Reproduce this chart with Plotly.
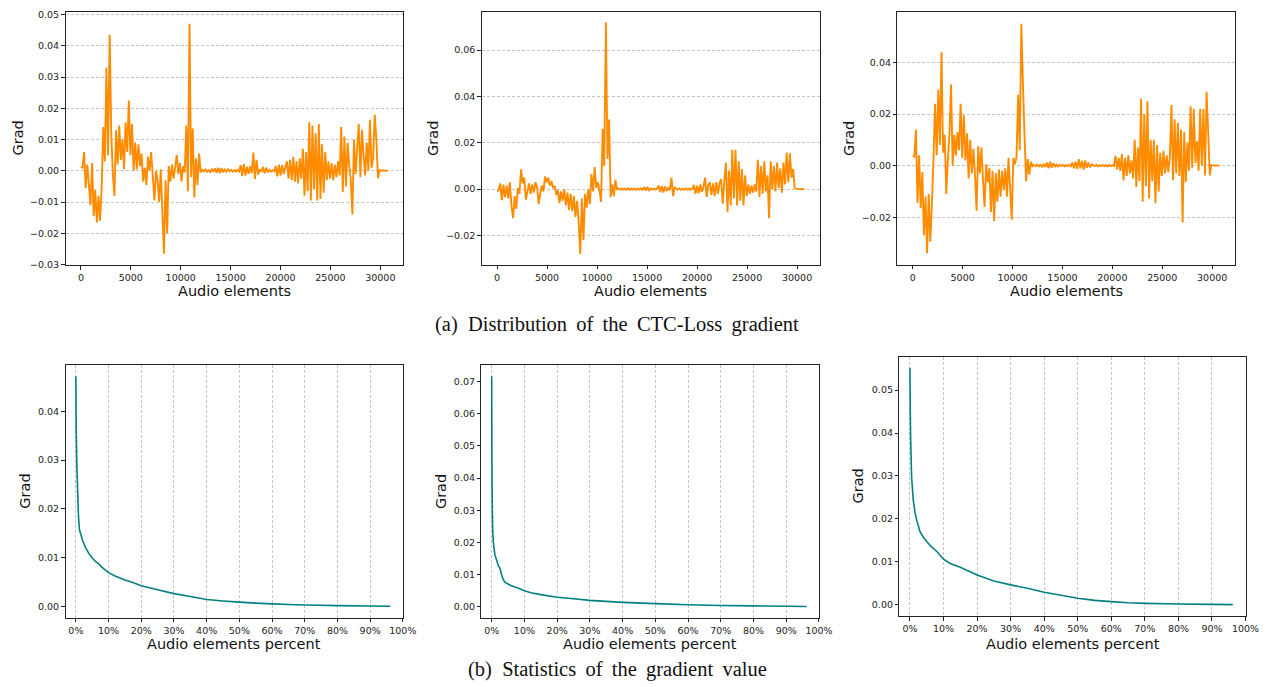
import numpy as np
import plotly.graph_objects as go

# ---------------- data (gradient values in units of 1e-3) ----------------
SAMPLE_STEP = 160  # audio elements between successive read-off points

grad_a = [1.2, 1.0, 6.0, -5.5, 2.0, -4.5, -11.0, 2.5, -14.5, -6.0,
          -16.5, -8.0, -16.0, -5.5, 14.0, 3.0, 33.0, 5.0, 43.5, 12.0,
          -1.0, -8.0, 13.0, 2.0, 14.5, 3.5, 10.0, 0.5, 15.5, 6.0,
          22.5, 5.0, 15.0, 0.0, 9.0, 0.5, 8.5, 1.5, 5.5, -3.5,
          1.0, -4.5, 4.5, 0.0, 6.0, -1.5, -9.5, 0.0, -3.0, -10.0,
          0.5, -13.0, -26.5, -3.0, -20.0, 1.5, -3.5, 2.0, -2.5, 1.0,
          5.0, -1.0, 2.5, -3.5, 1.5, -0.5, 14.5, -6.5, 47.0, -2.0,
          13.5, -8.5, 4.0, -4.5, 5.5, -0.5,
          0.3, -0.2, 0.4, -0.3, 0.2, -0.4, 0.5, -0.3, 0.8, -0.6, 1.0, -0.8,
          0.9, -0.5, 0.4, -0.3, 0.5, -0.2, 0.3, -0.3, 0.2, -0.2, 0.3, -0.2,
          1.8, -1.6, 2.2, -1.5, 1.2, -1.0, 1.5,
          -0.8, 5.8, -2.6, 3.5, -1.2,
          0.4, -0.3, 1.2, -0.8, 1.0, -0.5, 0.3, -0.3, 0.2, -0.2,
          1.5, -1.8, 2.0, -1.5, 1.8, -1.0, 1.2,
          3.0, -2.5,
          3.5, -3.0, 4.5, -3.5, 3.0, -4.0, 4.0, -2.5,
          7.0, -8.0, 6.0, -6.5,
          15.5, -9.5, 14.5, -6.0, 12.0, -9.5, 15.0,
          -9.0, 8.5, -7.0, 6.0, -3.0,
          3.0, -2.5, 2.5, -3.0, 2.0, -2.0, 3.0, -1.5,
          14.0, -6.8, 11.0, -5.0, 9.0,
          2.0, -3.0, -14.0,
          10.0, -1.0, 7.0,
          15.0, -2.0, 13.0,
          5.0, -1.5, 9.0, 0.0,
          16.3, 1.0,
          4.0, 17.9, 10.0, -2.4,
          0.2, 0.1, 0.1, 0.0, 0.1, 0.0]

grad_b = [-0.8, -0.6, 2.5, -4.8, 2.0, -3.5, 1.5, -4.0, 3.0, -7.0,
          -12.5, -3.0, -8.5, 0.5, -2.0, 8.5, 2.5, 5.0, -4.5, -1.0,
          2.5, -2.0, 2.0, -1.5, 3.0, 1.0, -6.5, -2.0, 1.5, -1.0,
          5.5, 3.0, 5.0, 1.5, 3.5, 0.5, 1.5, -2.5, -0.5, -6.0,
          -1.0, -5.0, 0.0, -7.0, -1.5, -9.0, -2.0, -9.5, -3.0, -12.0,
          -5.0, -14.0, -28.0, -4.0, -22.0, -2.0, -8.0, 0.0, -6.5, 6.5,
          -1.0, 9.5, 0.5, 3.0, -0.5, -5.5, 26.0, 10.0, 72.0, 13.0,
          30.0, -3.5, 2.0, -3.0, 4.0, -0.3,
          0.3, -0.2, 0.3, -0.3, 0.2, -0.2, 0.4, -0.3, 0.3, -0.2, 0.2, -0.3,
          0.3, -0.2, 0.4, -0.3, 0.8, -0.6, 1.0, -0.5, 0.3, -0.2, 0.2, -0.2, 0.3,
          1.5, -1.2, 1.4, -1.5, 1.2, -0.8,
          0.5, -0.4,
          5.0, -3.0, 1.0,
          0.3, -0.2, 0.3, -0.3, 0.2, -0.2, 0.3, -0.2, 0.2, -0.3, 0.2,
          1.8, -2.0, 1.5, -1.8, 2.0, -1.2,
          1.0,
          5.0, -3.4, 2.0,
          3.0, -2.5, 2.5, -3.0, 3.0, -2.0, 2.5,
          4.4, -6.3, 3.0,
          11.5, -9.8, 8.0, -7.0,
          17.0, -4.0, 17.0, -7.0, 12.0, -5.0,
          8.7, -7.0, 6.0, -3.0,
          2.0, -2.0, 1.5, -1.5, 2.0, -1.0,
          12.7, -3.4, 10.0, -2.0, 12.0, -1.0,
          6.0, -12.5, 12.0, 0.0, 10.0, -1.0, 11.5, 0.5, 9.0, -1.5, 11.5,
          2.0, 15.8, 3.0, 15.5, 5.0, 8.7, 0.5,
          0.1, 0.1, 0.0, 0.1, 0.0, 0.0]

grad_c = [3.8, 3.5, 14.0, -14.5, 4.0, -16.5, -2.5, -27.0, -12.0, -34.0,
          -11.0, -29.5, -15.0, 2.5, 24.0, 4.0, 29.5, 8.0, 44.0, 5.0,
          12.0, -11.0, 2.0, 12.5, 31.5, 0.0, 12.0, 4.0, 13.0, 6.0,
          24.0, 3.0, 19.5, 2.0, 12.5, -5.0, 10.0, -3.0, 6.5, -4.0,
          -17.5, 7.5, -3.0, 7.0, -5.5, -16.0, 0.5, -6.5, -1.0, -18.0,
          -2.0, -21.5, -3.0, -14.0, -1.5, -12.0, -2.0, -9.5, -1.0, -12.0,
          3.0, -9.0, -21.0, 3.0, 0.5, 3.5, 27.5, 6.0, 55.0, 32.0,
          12.0, -6.0, 2.5, -3.5, 1.5, -0.2,
          0.3, -0.2, 0.4, -0.3, 0.3, -0.4, 0.5, -0.5, 1.2, -1.0, 1.5, -0.8,
          1.0, -0.5, 0.4, -0.3, 0.3, -0.2, 0.3, -0.3, 0.2, -0.2, 0.3, -0.3,
          1.2, -1.0, 1.5, -1.2, 2.5, -1.0, 1.8, -1.5, 2.0, -0.8, 1.2, -0.6, 0.5,
          0.3, -0.2, 0.3, -0.3, 0.2, -0.2, 0.3, -0.2, 0.2, -0.3, 0.3, -0.2, 0.2, -0.2,
          3.8, -1.5, 3.0, -2.0,
          4.5, -5.7, 3.0, -4.0, 4.0, -3.0, 2.0, -5.0,
          10.0, -8.3, 7.0, -6.0,
          26.0, -14.0, 20.0, -8.0, 25.0, -12.7, 10.0, -6.0,
          10.0, -14.6, 8.0, -10.0, 5.0,
          -4.0, 5.7, -3.0, 4.0, -2.5, 3.0,
          23.5, -5.7, 18.0, -3.0, 16.5,
          -4.0, 14.0, -22.0, 13.0, -6.4, 9.0, -2.0,
          23.0, -1.0, 22.0, 1.0, 9.5, -2.0, 22.0, 0.0,
          22.0, -3.8, 28.6, 13.0, -3.8,
          0.2, 0.1, 0.0, 0.1, 0.0, 0.0]

# sorted |grad| curves: percent of audio elements -> value (1e-3)
pct_a = [0, 0.1, 0.3, 0.5, 0.8, 1.1, 1.5, 2, 3, 4, 5, 6, 7, 8, 10, 12, 15, 17,
         20, 25, 30, 35, 40, 45, 50, 55, 60, 65, 70, 75, 80, 90, 96.2]
val_a = [47.2, 36.0, 29.0, 24.5, 18.4, 15.7, 14.8, 13.6, 12.0, 10.8, 9.9, 9.2,
         8.7, 8.0, 6.9, 6.2, 5.4, 5.0, 4.2, 3.4, 2.6, 2.0, 1.4, 1.1, 0.85, 0.65,
         0.5, 0.38, 0.28, 0.2, 0.14, 0.05, 0.0]

pct_b = [0, 0.05, 0.1, 0.2, 0.3, 0.5, 0.8, 1.0, 1.5, 2, 2.5, 3, 3.5, 4, 5, 6, 8,
         10, 12, 15, 20, 25, 30, 35, 40, 50, 60, 70, 80, 90, 96.2]
val_b = [71.7, 50.0, 40.0, 30.0, 24.0, 20.0, 17.5, 16.0, 14.5, 12.8, 12.0, 10.0,
         8.5, 7.6, 7.0, 6.5, 5.8, 4.9, 4.3, 3.7, 2.9, 2.4, 1.9, 1.6, 1.3, 0.9,
         0.55, 0.3, 0.2, 0.08, 0.0]

pct_c = [0, 0.1, 0.2, 0.5, 1, 1.5, 2, 3, 4, 5, 6, 8, 10, 12, 15, 20, 25, 30, 35,
         40, 45, 50, 55, 60, 65, 70, 80, 90, 96.2]
val_c = [55.2, 45.0, 39.0, 29.7, 24.3, 21.5, 19.7, 17.0, 15.7, 14.7, 13.8, 12.4,
         10.6, 9.6, 8.7, 6.9, 5.5, 4.6, 3.8, 2.9, 2.2, 1.5, 1.0, 0.7, 0.45, 0.3,
         0.15, 0.05, 0.0]

top_xticks = [0, 5000, 10000, 15000, 20000, 25000, 30000]
pct_ticks = [0, 10, 20, 30, 40, 50, 60, 70, 80, 90, 100]
pct_labels = ["0%", "10%", "20%", "30%", "40%", "50%", "60%", "70%", "80%", "90%", "100%"]

caption_a = "(a)\u2002Distribution\u2009 of\u2009 the\u2009 CTC-Loss\u2009 gradient"
caption_b = "(b)\u2002Statistics\u2009 of\u2009 the\u2009 gradient\u2009 value"

# ---------------- figure ----------------
W, H = 1283, 687
ORANGE = "#FF8C00"
TEAL = "#008080"
MILLI = 1e-3


def px_x(a, b):
    return [a / W, b / W]


def px_y(top, bottom):
    return [1 - bottom / H, 1 - top / H]


fig = go.Figure()

tops = [grad_a, grad_b, grad_c]
for k, g in enumerate(tops):
    n = k + 1
    xs = np.arange(len(g)) * SAMPLE_STEP
    fig.add_trace(go.Scatter(x=xs, y=np.array(g) * MILLI, mode="lines",
                             line=dict(color=ORANGE, width=1.9, simplify=False),
                             xaxis="x" if n == 1 else f"x{n}",
                             yaxis="y" if n == 1 else f"y{n}",
                             hoverinfo="skip"))

bots = [(pct_a, val_a), (pct_b, val_b), (pct_c, val_c)]
for k, (p, v) in enumerate(bots):
    n = k + 4
    fig.add_trace(go.Scatter(x=p, y=np.array(v) * MILLI, mode="lines",
                             line=dict(color=TEAL, width=1.6, simplify=False),
                             xaxis=f"x{n}", yaxis=f"y{n}", hoverinfo="skip"))

axc = dict(showline=True, linecolor="#222", linewidth=1, mirror=True,
           ticks="outside", ticklen=3.5, tickwidth=1, tickcolor="#222",
           zeroline=False, tickfont=dict(size=9.5, family="DejaVu Sans", color="#222"),
           gridcolor="#c4c4c4", griddash="3px,2px", gridwidth=0.8)

# pixel boxes of plot areas
boxes = [
    (66.3, 407.3, 9.4, 265.3),
    (487.0, 828.7, 9.0, 265.0),
    (907.3, 1248.3, 9.3, 265.0),
    (66.3, 407.3, 366.7, 622.0),
    (486.7, 828.0, 366.3, 622.0),
    (909.3, 1259.3, 358.3, 620.7),
]
yranges = [[-0.0302, 0.0507], [-0.0327, 0.0765], [-0.0385, 0.0595],
           [-0.00235, 0.0494], [-0.0035, 0.0752], [-0.00276, 0.0577]]
ydticks = [0.01, 0.02, 0.02, 0.01, 0.01, 0.01]

layout = dict(width=W, height=H, margin=dict(l=0, r=0, t=0, b=0),
              plot_bgcolor="white", paper_bgcolor="white", showlegend=False,
              font=dict(family="DejaVu Sans", color="#222"))

for i, (x0, x1, y0, y1) in enumerate(boxes):
    n = i + 1
    xk = "xaxis" if n == 1 else f"xaxis{n}"
    yk = "yaxis" if n == 1 else f"yaxis{n}"
    xa = dict(axc, domain=px_x(x0, x1), anchor="y" if n == 1 else f"y{n}")
    ya = dict(axc, domain=px_y(y0, y1), anchor="x" if n == 1 else f"x{n}",
              range=yranges[i], dtick=ydticks[i], tick0=0, tickformat=".2f")
    if n <= 3:
        xa.update(range=[-1536, 32256], tickmode="array", tickvals=top_xticks,
                  tickformat="d", showgrid=False)
        ya.update(showgrid=True)
    else:
        xa.update(range=[-3.15, 100], tickmode="array", tickvals=pct_ticks,
                  ticktext=pct_labels, showgrid=True)
        ya.update(showgrid=False)
    layout[xk] = xa
    layout[yk] = ya

fig.update_layout(**layout)

ann = []
lab_font = dict(family="DejaVu Sans", size=14.5, color="#111")
xt = [(237.0, 291.7, "Audio elements"), (657.7, 291.7, "Audio elements"),
      (1077.8, 291.7, "Audio elements"),
      (237.0, 649.0, "Audio elements percent"), (657.3, 649.0, "Audio elements percent"),
      (1084.5, 648.3, "Audio elements percent")]
for x, y, t in xt:
    ann.append(dict(x=x / W, y=1 - y / H, xref="paper", yref="paper", text=t,
                    showarrow=False, xanchor="center", yanchor="middle", font=lab_font))
yt = [(18.3, 137.0), (438.3, 137.0), (859.0, 137.0),
      (25.7, 494.0), (445.7, 494.0), (867.7, 489.0)]
for x, y in yt:
    ann.append(dict(x=x / W, y=1 - y / H, xref="paper", yref="paper", text="Grad",
                    textangle=-90, showarrow=False, xanchor="center", yanchor="middle",
                    font=lab_font))
cap_font = dict(family="Liberation Serif", size=20.5, color="#111")
ann.append(dict(x=624 / W, y=1 - 325 / H, xref="paper", yref="paper", text=caption_a,
                showarrow=False, xanchor="center", yanchor="middle", font=cap_font))
ann.append(dict(x=624 / W, y=1 - 674 / H, xref="paper", yref="paper", text=caption_b,
                showarrow=False, xanchor="center", yanchor="middle", font=cap_font))
fig.update_layout(annotations=ann)

fig.write_html("out.html")
